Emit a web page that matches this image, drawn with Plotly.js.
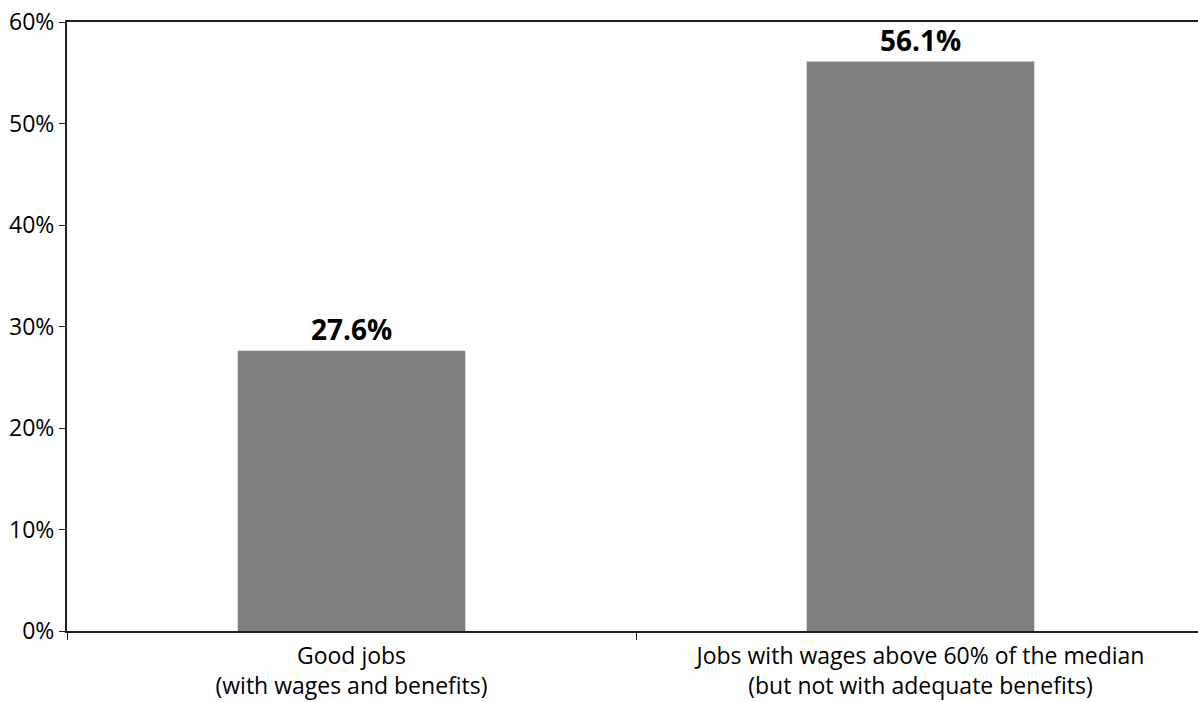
<!DOCTYPE html>
<html>
<head>
<meta charset="utf-8">
<script src="https://cdn.plot.ly/plotly-3.0.1.min.js"></script>
<style>
  html, body { margin: 0; padding: 0; background: #ffffff; }
  #chart { width: 1198px; height: 702px; }
</style>
</head>
<body>
<div id="chart"></div>
<script>
// Job categories (two-line labels) and their shares in percent
const categories = [
  "Good jobs<br>(with wages and benefits)",
  "Jobs with wages above 60% of the median<br>(but not with adequate benefits)"
];
const shares = [27.6, 56.1];
const yTickValues = [0, 10, 20, 30, 40, 50, 60];
const yTickLabels = ["0%", "10%", "20%", "30%", "40%", "50%", "60%"];

const lineColor = "#231f20";
const fontFamily = "'Open Sans', 'Noto Sans', sans-serif";

const trace = {
  type: "bar",
  x: categories,
  y: shares,
  width: 0.4,
  marker: { color: "#7f807f", line: { width: 0 } },
  text: shares.map(v => v.toFixed(1) + "%"),
  texttemplate: "<b>%{text}</b>",
  textposition: "outside",
  cliponaxis: false,
  textfont: { family: fontFamily, size: 28, color: "#000000" },
  hoverinfo: "skip"
};

const layout = {
  width: 1198,
  height: 702,
  margin: { l: 67, r: 0, t: 22, b: 71, pad: 0 },
  paper_bgcolor: "#ffffff",
  plot_bgcolor: "#ffffff",
  showlegend: false,
  font: { family: fontFamily, size: 23, color: "#000000" },
  xaxis: {
    type: "category",
    range: [-0.5, 1.4877],
    showline: true,
    mirror: true,
    linecolor: lineColor,
    linewidth: 2,
    ticks: "outside",
    tickson: "boundaries",
    ticklen: 7,
    tickwidth: 1,
    tickcolor: lineColor,
    ticklabelstandoff: 3,
    showgrid: false,
    zeroline: false,
    tickfont: { family: fontFamily, size: 23, color: "#000000" },
    fixedrange: true
  },
  yaxis: {
    range: [0, 60],
    tickvals: yTickValues,
    ticktext: yTickLabels,
    showline: true,
    linecolor: lineColor,
    linewidth: 2,
    ticks: "outside",
    ticklen: 6,
    tickwidth: 1,
    tickcolor: lineColor,
    showgrid: false,
    zeroline: false,
    tickfont: { family: fontFamily, size: 23, color: "#000000" },
    fixedrange: true
  },
  bargap: 0.6
};

Plotly.newPlot("chart", [trace], layout, { displayModeBar: false, staticPlot: true });
</script>
</body>
</html>
